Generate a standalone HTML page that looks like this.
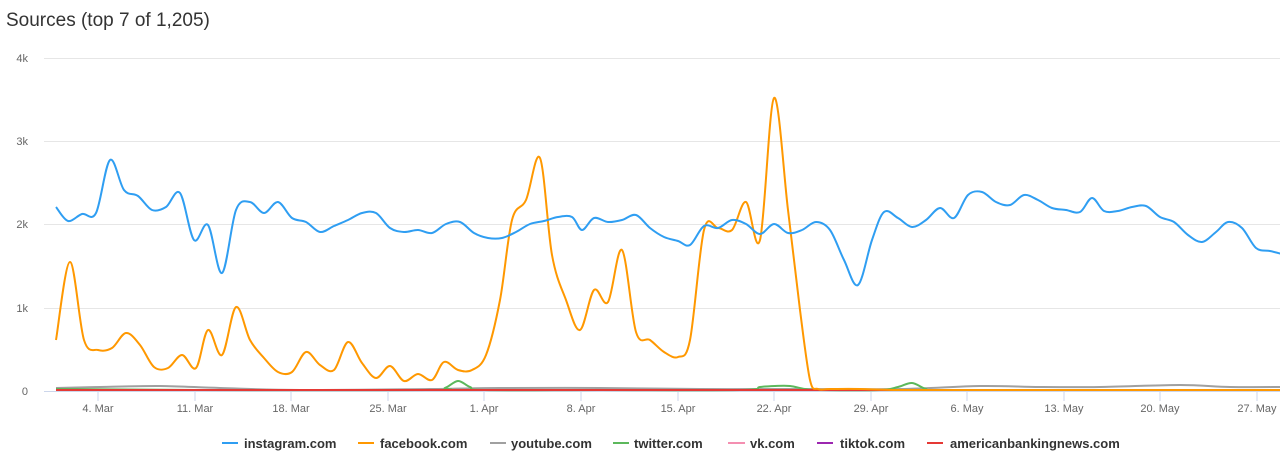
<!DOCTYPE html><html><head><style>body{margin:0;background:#fff;font-family:"Liberation Sans",sans-serif}svg{display:block}</style></head><body>
<svg id="s" width="1280" height="463" xmlns="http://www.w3.org/2000/svg" font-family="Liberation Sans, sans-serif">
<text x="6" y="26" font-size="19" fill="#333">Sources (top 7 of 1,205)</text>
<g stroke="#e6e6e6" stroke-width="1">
<line x1="44" x2="1280" y1="58.5" y2="58.5"/><line x1="44" x2="1280" y1="141.5" y2="141.5"/><line x1="44" x2="1280" y1="224.5" y2="224.5"/><line x1="44" x2="1280" y1="308.5" y2="308.5"/>
</g>
<line x1="44" x2="1280" y1="391.5" y2="391.5" stroke="#ccd6eb"/>
<g font-size="11" fill="#666" text-anchor="end">
<text x="28" y="62">4k</text><text x="28" y="145">3k</text><text x="28" y="228">2k</text><text x="28" y="312">1k</text><text x="28" y="395">0</text>
</g>
<g stroke="#ccd6eb"><line x1="98" x2="98" y1="391" y2="401"/><line x1="195" x2="195" y1="391" y2="401"/><line x1="291" x2="291" y1="391" y2="401"/><line x1="388" x2="388" y1="391" y2="401"/><line x1="484" x2="484" y1="391" y2="401"/><line x1="581" x2="581" y1="391" y2="401"/><line x1="678" x2="678" y1="391" y2="401"/><line x1="774" x2="774" y1="391" y2="401"/><line x1="871" x2="871" y1="391" y2="401"/><line x1="967" x2="967" y1="391" y2="401"/><line x1="1064" x2="1064" y1="391" y2="401"/><line x1="1160" x2="1160" y1="391" y2="401"/><line x1="1257" x2="1257" y1="391" y2="401"/></g>
<g font-size="11" fill="#666" text-anchor="middle">
<text x="98" y="412">4. Mar</text><text x="195" y="412">11. Mar</text><text x="291" y="412">18. Mar</text><text x="388" y="412">25. Mar</text><text x="484" y="412">1. Apr</text><text x="581" y="412">8. Apr</text><text x="678" y="412">15. Apr</text><text x="774" y="412">22. Apr</text><text x="871" y="412">29. Apr</text><text x="967" y="412">6. May</text><text x="1064" y="412">13. May</text><text x="1160" y="412">20. May</text><text x="1257" y="412">27. May</text>
</g>
<g id="series" fill="none" stroke-width="2"></g>
<g font-size="13" font-weight="bold" fill="#333">
<line x1="222" x2="238" y1="443" y2="443" stroke="#2f9ef2" stroke-width="2"/><text x="244" y="448">instagram.com</text>
<line x1="358" x2="374" y1="443" y2="443" stroke="#ff9800" stroke-width="2"/><text x="380" y="448">facebook.com</text>
<line x1="490" x2="506" y1="443" y2="443" stroke="#a0a0a0" stroke-width="2"/><text x="511" y="448">youtube.com</text>
<line x1="613" x2="629" y1="443" y2="443" stroke="#5cb85c" stroke-width="2"/><text x="634" y="448">twitter.com</text>
<line x1="728" x2="745" y1="443" y2="443" stroke="#f48fb1" stroke-width="2"/><text x="750" y="448">vk.com</text>
<line x1="817" x2="833" y1="443" y2="443" stroke="#9c27b0" stroke-width="2"/><text x="840" y="448">tiktok.com</text>
<line x1="927" x2="943" y1="443" y2="443" stroke="#e53935" stroke-width="2"/><text x="950" y="448">americanbankingnews.com</text>
</g>
</svg>
<script>
function P(a){let d="M"+a[0][0]+","+a[0][1];for(let i=0;i<a.length-1;i++){const p0=a[i-1]||a[i],p1=a[i],p2=a[i+1],p3=a[i+2]||p2;const c1=[p1[0]+(p2[0]-p0[0])/6,p1[1]+(p2[1]-p0[1])/6],c2=[p2[0]-(p3[0]-p1[0])/6,p2[1]-(p3[1]-p1[1])/6];d+="C"+c1+" "+c2+" "+p2;}return d;}
const ig=[[56,207],[68,221],[82,214],[96,213],[110,160],[124,190],[138,196],[152,210],[166,207],[180,193],[194,240],[208,225],[222,273],[236,210],[250,202],[264,213],[278,202],[292,218],[306,222],[320,232],[334,226],[348,220],[362,213],[376,213],[390,228],[404,232],[418,230],[432,233],[446,224],[460,222],[474,233],[488,238],[502,238],[516,232],[530,224],[544,221],[558,217],[572,217],[582,230],[594,218],[608,222],[622,220],[636,215],[650,228],[664,237],[678,241],[690,245],[704,226],[718,228],[732,220],[746,224],[760,234],[774,224],[788,233],[802,230],[816,222],[830,230],[844,260],[858,285],[872,240],[884,212],[898,218],[912,227],[926,220],[940,208],[954,218],[968,195],[982,192],[996,202],[1010,205],[1024,195],[1038,200],[1052,208],[1066,210],[1080,212],[1092,198],[1104,211],[1118,211],[1132,207],[1146,206],[1160,217],[1174,222],[1188,235],[1202,242],[1216,232],[1228,222],[1242,228],[1256,248],[1270,251],[1282,254]];
const fb=[[56,340],[70,262],[84,340],[98,350],[112,348],[126,333],[140,345],[154,367],[168,368],[182,355],[196,368],[208,330],[222,355],[236,307],[250,340],[264,358],[278,372],[292,372],[306,352],[320,365],[334,370],[348,342],[362,363],[376,378],[390,366],[404,381],[418,374],[432,380],[444,362],[458,370],[472,370],[486,355],[500,300],[512,220],[526,200],[540,158],[552,255],[566,300],[580,330],[594,290],[608,302],[622,250],[636,332],[650,340],[664,352],[678,357],[690,340],[704,230],[718,228],[732,230],[746,202],[760,240],[774,98],[788,210],[800,310],[810,380],[818,389],[830,389],[860,389],[900,390],[1000,390],[1282,390]];
const yt=[[56,388],[100,387],[160,386],[220,388],[300,390],[430,389],[500,388],[600,388],[700,389],[800,389],[900,389],[980,386],[1040,387],[1100,387],[1180,385],[1230,387],[1282,387]];
const tw=[[56,389],[200,390],[430,390],[445,388],[458,381],[470,387],[485,390],[600,390],[740,390],[760,387],[775,386],[790,386],[805,389],[820,390],[880,390],[898,387],[912,383],[926,389],[940,390],[1100,390],[1282,390]];
const g=document.getElementById("series");
function add(a,c,w){const p=document.createElementNS("http://www.w3.org/2000/svg","path");p.setAttribute("d",P(a));p.setAttribute("stroke",c);if(w)p.setAttribute("stroke-width",w);g.appendChild(p);}
add(yt,"#a0a0a0");add(tw,"#5cb85c");
add([[56,390],[1282,390]],"#9c27b0");add([[56,390],[1282,390]],"#f48fb1");add([[56,390],[1282,390]],"#e53935");
add(fb,"#ff9800");add(ig,"#2f9ef2");
</script>
</body></html>
